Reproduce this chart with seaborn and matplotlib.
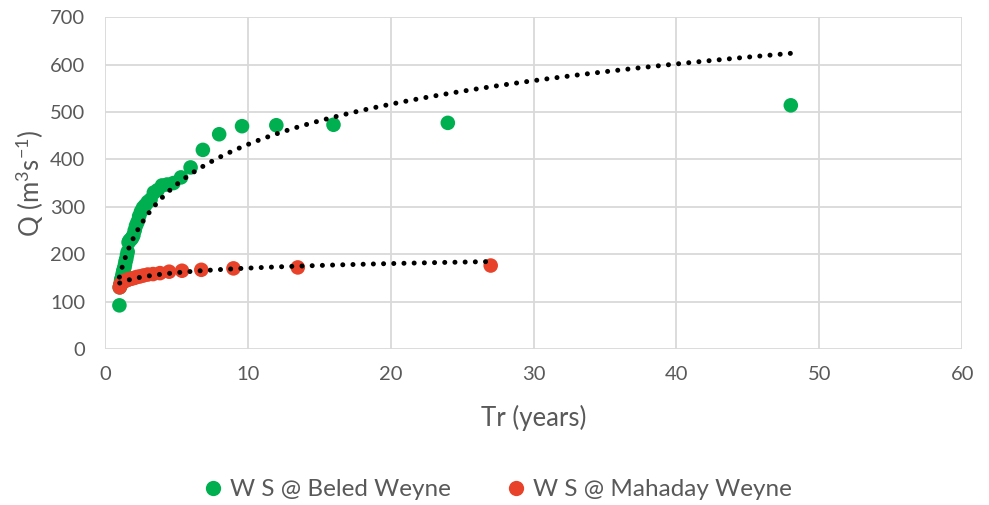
import numpy as np
import pandas as pd
import matplotlib
matplotlib.use("Agg")
import matplotlib.pyplot as plt
import seaborn as sns
from matplotlib.lines import Line2D

# Return period (years) and discharge Q (m3/s)
tr_beled = [48, 24, 16, 12, 9.6, 8, 6.86, 6, 5.33, 4.8, 4.36, 4, 3.69, 3.43, 3.2, 3,
            2.82, 2.67, 2.53, 2.4, 2.29, 2.18, 2.09, 2, 1.92, 1.85, 1.78, 1.71, 1.66,
            1.6, 1.55, 1.5, 1.45, 1.41, 1.37, 1.33, 1.3, 1.26, 1.23, 1.2, 1.17, 1.14,
            1.12, 1.09, 1.07, 1.04, 1.02]
q_beled = [514, 477, 473, 472, 470, 453, 420, 383, 362, 350, 347, 345, 335, 330, 315, 310,
           303, 298, 290, 280, 268, 260, 250, 240, 235, 232, 230, 228, 225,
           205, 198, 190, 185, 178, 172, 168, 165, 160, 155, 150, 148, 145,
           140, 135, 132, 130, 92]

tr_mahaday = [27, 13.5, 9, 6.75, 5.4, 4.5, 3.86, 3.375, 3, 2.7, 2.45, 2.25, 2.08, 1.93,
              1.8, 1.69, 1.59, 1.5, 1.42, 1.35, 1.29, 1.23, 1.17, 1.125, 1.08, 1.04]
q_mahaday = [176, 172, 170, 167, 165, 163, 160, 158, 157, 155, 153, 152, 150, 149,
             148, 147, 146, 145, 144, 143, 141, 140, 139, 137, 135, 130]

labels = ["W S @ Beled Weyne", "W S @ Mahaday Weyne"]
colors = ["#00B050", "#E8432A"]

sns.set_theme(style="white")
plt.rcParams['font.family'] = ['Lato', 'DejaVu Sans']

df = pd.concat([
    pd.DataFrame({"Tr": tr_beled, "Q": q_beled, "station": labels[0]}),
    pd.DataFrame({"Tr": tr_mahaday, "Q": q_mahaday, "station": labels[1]}),
])

fig = plt.figure(figsize=(9.89, 5.05), dpi=100)
ax = fig.add_axes([0.106, 0.309, 0.867, 0.657])

sns.scatterplot(data=df, x="Tr", y="Q", hue="station", palette=colors,
                s=110, linewidth=0, ax=ax, legend=False, zorder=3)

# logarithmic trendlines fitted to each series
for tr, q in [(tr_beled, q_beled), (tr_mahaday, q_mahaday)]:
    tr = np.asarray(tr, float); q = np.asarray(q, float)
    b, a = np.polyfit(np.log(tr), q, 1)
    xs = np.linspace(tr.min(), tr.max(), 300)
    ax.plot(xs, a + b * np.log(xs), color="black", linewidth=3.6,
            linestyle=(0, (0.01, 2.03)), dash_capstyle="round",
            solid_capstyle="round", zorder=4)

ax.set_xlim(0, 60)
ax.set_ylim(0, 700)
ax.set_xticks(range(0, 61, 10))
ax.set_yticks(range(0, 701, 100))
ax.grid(True, color="#D9D9D9", linewidth=1.3)
for s in ax.spines.values():
    s.set_visible(False)
ax.tick_params(axis="both", labelsize=14.5, colors="#595959", length=0)
ax.tick_params(axis="x", pad=12)
ax.tick_params(axis="y", pad=14)

ax.set_xlabel("Tr (years)", fontsize=18.5, color="#595959", labelpad=16)
ax.set_ylabel(r"Q (m$^{\mathregular{3}}$s$^{\mathregular{-1}}$)", fontsize=18.5,
              color="#595959", labelpad=3)

handles = [Line2D([], [], marker="o", linestyle="", markersize=11,
                  markerfacecolor=c, markeredgewidth=0) for c in colors]
fig.legend(handles, labels, loc="center", bbox_to_anchor=(0.503, 0.03), ncol=2,
           frameon=False, fontsize=17.5, labelcolor="#595959",
           handlelength=0.8, handletextpad=0.3, columnspacing=2.3)

fig.savefig("out.png", dpi=100)
